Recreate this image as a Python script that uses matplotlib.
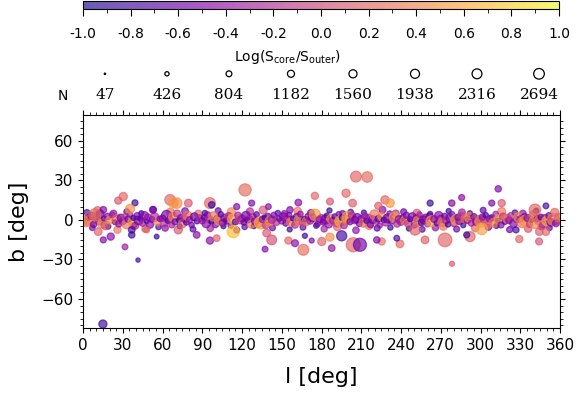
import matplotlib
matplotlib.use("Agg")
import matplotlib.pyplot as plt
from matplotlib.ticker import MultipleLocator
from matplotlib.cm import ScalarMappable
from matplotlib.colors import Normalize
import numpy as np

# ── Data: galactic longitude l, latitude b, log(S_core/S_outer), N ──────────
# band |b| < 5, 0-360 deg
band_l = [1, 2.5, 4, 5, 6.5, 8, 9, 10.5, 12, 13, 14.5, 16, 17, 18.5, 20, 22, 24, 25.5, 27, 28.5,
          30, 31.5, 33, 34, 35.5, 37, 38, 39.5, 41, 42, 43.5, 45, 46.5, 48, 49, 50.5, 52, 54, 56, 58,
          60, 61.5, 63, 64, 65.5, 67, 68, 69.5, 71, 72.5, 74, 75, 76.5, 78, 79, 80.5, 82, 84, 86, 88,
          90, 91.5, 93, 94, 95.5, 97, 98.5, 100, 101.5, 103, 104, 105.5, 107, 108.5, 110, 111.5, 113, 115, 117, 118.5,
          120, 121.5, 123, 124, 125.5, 127, 128.5, 130, 131, 132.5, 134, 135.5, 137, 138, 139.5, 141, 142.5, 144, 146, 148,
          150, 151.5, 153, 154, 155.5, 157, 158.5, 160, 161.5, 163, 164, 165.5, 167, 168.5, 170, 171.5, 173, 175, 177, 178.5,
          180, 181.5, 183, 184, 185.5, 187, 188.5, 190, 191.5, 193, 194, 195.5, 197, 198.5, 200, 201.5, 203, 205, 207, 208.5,
          210, 211.5, 213, 214, 215.5, 217, 218.5, 220, 221.5, 223, 224, 225.5, 227, 228.5, 230, 231.5, 233, 235, 237, 238.5,
          240, 241.5, 243, 244, 245.5, 247, 248.5, 250, 251.5, 253, 254, 255.5, 257, 258.5, 260, 261.5, 263, 265, 267, 268.5,
          270, 271.5, 273, 274, 275.5, 277, 278.5, 280, 281.5, 283, 284, 285.5, 287, 288.5, 290, 291.5, 293, 295, 297, 298.5,
          300, 301.5, 303, 304, 305.5, 307, 308.5, 310, 311.5, 313, 314, 315.5, 317, 318.5, 320, 321.5, 323, 325, 327, 328.5,
          330, 331.5, 333, 334, 335.5, 337, 338.5, 340, 341.5, 343, 344, 345.5, 347, 348.5, 350, 351.5, 353, 355, 357, 359]
band_b = [0.5, -2, 1.8, -0.5, 3, -3.5, 0.8, 2.2, -1.2, 4.5, -2.8, 1, -4.2, 2.6, -0.3, 3.8, -1.8, 0.2, -3, 1.6,
          -1, 2.4, -3.2, 0.6, 4, -1.8, 1.5, -4.5, 2.8, -0.4, 0.9, -2.5, 3.3, -1.1, 1.9, -3.6, 0.3, 2.1, -2, 0.8,
          1.2, -2.6, 3.5, -0.7, 0.4, -3.9, 2, -1.5, 4.8, -0.2, 1.7, -3, 0.9, -1.9, 3, 0.1, -4, 2.3, -0.9, 1.3,
          -0.6, 1.9, -2.9, 3.8, 0.3, -1.4, 2.6, -3.7, 0.9, -0.1, 4.2, -2.2, 1.4, -0.8, 2.9, -4.4, 0.6, -1.6, 3.4, -0.3,
          1.1, -1.9, 3.1, -0.4, 0.7, -3.3, 2.2, -1.1, 4.1, -2.5, -2.2, 0.4, 1.8, -4.1, 2.7, -0.9, 0.2, 3.6, -1.7, 0.9,
          -0.8, 2.3, -2.7, 0.5, 3.7, -1.6, 1, -3.8, 2, -0.2, 4.4, -2.1, 0.6, -1.2, 2.8, -0.6, 1.6, 3.9, -3.1, 0.2,
          1.4, -1.8, 0.3, 3.2, -3.4, 0.9, -0.5, 2.5, -2.4, 4.3, -1, 1.7, -4.2, 0.1, 2.1, -1.4, 3.3, -0.2, 1.2, -2.9,
          0.7, -2.3, 2.9, -0.7, 1.5, -3.6, 0.2, 3.9, -1.3, 0.8, -4.3, 2.4, -0.1, -2, 1.1, 4.6, -0.9, 2, -3, 0.4,
          -1.5, 1.9, -0.3, 3.5, -2.8, 0.5, 2.3, -4, 1, -0.8, 4, -2, 0, 1.6, -3.2, 2.8, -1, 0.6, -2.5, 3.1,
          0.9, -1.7, 2.7, -0.5, -3.5, 1.3, 4.2, -2.4, 0.1, 2, -1, 3.3, -4.1, 0.7, -0.3, 1.8, -2.6, 2.4, -1.3, 0.4,
          -1.2, 2.1, -0.2, 3.6, -3, 0.8, 1.7, -2.2, 4.4, -0.6, 0.3, -3.9, 2.5, -1.4, 1, -0.4, 3, -2.7, 0.5, 1.9,
          0.6, -2.1, 2.6, -0.8, 1.4, -3.4, 0.1, 3.9, -1.5, 0.9, -0.3, 2.2, -4.2, 1.2, -0.9, 3.2, -1.9, 0.4, -2.6, 1.6]
band_c = [0.3, 0.2, -0.5, 0.4, -0.5, -0.6, -0.8, 0.3, -0.4, -0.6, 0.5, -0.7, 0.0, -0.5, 0.4, -0.3, -0.9, 0.2, -0.4, -0.6,
          -0.4, -0.1, 0.3, -0.6, -0.3, 0.5, -0.9, -0.2, -0.5, -0.6, -0.7, -0.3, -0.45, -0.8, -0.4, -0.5, -0.6, -0.2, 0.4, -0.5,
          -0.5, -0.2, -0.55, -0.8, -0.4, -0.3, 0.4, -0.6, -0.1, -0.9, -0.5, 0.2, -0.3, -0.7, 0.3, -0.4, -0.6, -0.6, -0.8, -0.2,
          -0.4, -0.7, -0.45, -0.5, -0.2, -0.9, 0.3, -0.6, -0.3, 0.5, -0.8, -0.4, -0.5, -0.6, -0.2, -0.5, 0.6, -0.7, -0.3, -0.1,
          -0.3, -0.6, -0.55, -0.8, -0.4, 0.3, -0.2, -0.5, -0.7, 0.2, 0.55, -0.4, -0.9, -0.1, -0.6, 0.4, -0.3, -0.5, -0.2, -0.7,
          -0.4, -0.5, -0.7, -0.3, -0.5, 0.3, -0.9, -0.2, -0.6, 0.4, -0.4, -0.1, -0.8, 0.2, -0.5, -0.3, -0.6, 0.5, -0.6, -0.4,
          -0.2, -0.6, -0.5, -0.8, -0.4, 0.4, -0.3, -0.7, -0.1, -0.5, 0.6, -0.9, -0.3, 0.3, 0.5, -0.6, -0.2, -0.4, -0.55, -0.7,
          -0.5, 0.2, -0.3, -0.8, -0.4, -0.5, -0.6, 0.3, -0.2, -0.7, -0.4, 0.4, -0.9, -0.3, -0.6, -0.5, -0.6, 0.5, -0.2, -0.4,
          -0.3, -0.7, 0.3, -0.5, -0.1, -0.9, -0.5, -0.4, -0.6, 0.4, -0.3, -0.8, -0.55, -0.5, -0.2, -0.6, 0.5, -0.4, -0.7, -0.45,
          -0.4, 0.3, -0.6, -0.2, -0.8, -0.55, -0.5, -0.3, 0.5, -0.7, -0.4, -0.1, -0.9, 0.2, -0.5, 0.4, -0.3, -0.6, -0.5, -0.2,
          0.4, -0.5, -0.2, -0.8, 0.2, -0.4, -0.6, 0.3, -0.3, -0.9, 0.5, -0.5, -0.1, -0.7, 0.3, -0.4, -0.2, -0.5, -0.6, 0.4,
          -0.3, 0.3, -0.6, 0.5, -0.4, -0.1, -0.8, 0.2, 0.4, -0.5, 0.3, -0.7, -0.2, -0.4, 0.6, -0.6, -0.5, 0.3, -0.5, 0.2]
band_n = [1300, 900, 450, 1600, 700, 520, 380, 1400, 640, 820, 1100, 350, 1000, 560, 760, 430, 300, 1250, 580, 700,
          650, 480, 1200, 560, 400, 900, 350, 620, 700, 1050, 380, 520, 840, 300, 600, 720, 460, 980, 540, 420,
          560, 740, 1300, 380, 620, 460, 1100, 500, 680, 340, 580, 900, 700, 420, 1150, 520, 380, 860, 450, 640,
          600, 420, 900, 520, 760, 360, 1200, 480, 640, 1500, 400, 700, 820, 560, 660, 380, 1400, 500, 580, 740,
          700, 480, 1050, 380, 640, 860, 560, 720, 420, 980, 2100, 600, 340, 660, 500, 1200, 780, 450, 620, 400,
          560, 900, 420, 700, 380, 1100, 340, 620, 760, 1300, 460, 580, 400, 980, 520, 680, 840, 1700, 440, 600,
          640, 480, 1150, 360, 720, 900, 560, 420, 800, 380, 1500, 460, 600, 1000, 1800, 520, 680, 740, 1200, 440,
          620, 1000, 480, 380, 700, 560, 820, 1250, 440, 600, 360, 950, 400, 680, 1100, 460, 540, 1400, 620, 760,
          680, 440, 1050, 520, 760, 340, 900, 480, 620, 1300, 400, 560, 840, 700, 460, 580, 1600, 640, 380, 980,
          700, 1200, 480, 620, 380, 900, 440, 760, 1450, 520, 660, 580, 340, 1000, 600, 1250, 460, 540, 800, 720,
          1700, 560, 720, 380, 900, 620, 460, 1100, 420, 340, 1300, 500, 680, 400, 1000, 580, 640, 860, 480, 1200,
          600, 1400, 460, 1800, 700, 520, 380, 900, 2400, 560, 1100, 440, 640, 760, 1300, 480, 820, 1900, 620, 1000]

# outer edge of the band, 4 < |b| < 8
edge_l = [3, 7, 11, 19, 23, 26, 33, 38, 44, 47, 53, 57, 62, 66, 73, 77, 83, 87, 92, 96, 102, 106, 112, 116,
          122, 126, 129, 136, 143, 147, 152, 156, 162, 166, 172, 176, 182, 186, 192, 196, 202, 206, 212, 216, 222, 226, 232, 236,
          242, 246, 252, 256, 262, 266, 272, 276, 282, 286, 292, 296, 302, 306, 312, 316, 322, 326, 332, 336, 342, 346, 352, 356]
edge_b = [5.5, -6, 7.2, -5, 4.8, -7.5, 6.2, -4.6, 5, -6.8, 7.8, -5.4, -6.2, 5.8, -4.9, 6.6, -7.1, 4.5, 5.2, -6.5, 7, -4.8, 5.9, -7.7,
          -5.3, 6.4, -4.7, 7.4, -6, 5.1, 4.6, -7.3, 6.8, -5.6, 5.3, -4.4, -6.9, 7.1, -5.1, 4.9, 6, -7.9, 5.5, -4.5, -6.3, 7.6, -5.8, 4.7,
          6.1, -6.6, 5, -7.2, 4.4, -5.9, -4.8, 6.7, -7, 5.7, 4.9, -6.1, 7.3, -5.5, -4.6, 6.3, -7.4, 5.4, 4.8, -6.7, 6.9, -5.2, -6, 5.6]
edge_c = [-0.8, -0.5, 0.2, -0.9, -0.4, 0.3, -0.7, -0.3, -0.9, 0.1, -0.6, -0.8, -0.4, 0.3, -0.9, -0.5, -0.7, 0.2, -0.8, -0.3, -0.6, -0.9, 0.4, -0.5,
          -0.7, -0.2, -0.9, 0.1, -0.6, -0.8, -0.4, -0.9, 0.3, -0.7, -0.5, -0.85, -0.3, -0.9, 0.2, -0.6, -0.8, -0.4, -0.9, 0.3, -0.7, -0.5, -0.85, -0.2,
          -0.6, -0.9, 0.1, -0.7, -0.8, -0.4, 0.3, -0.9, -0.6, -0.3, -0.85, 0.2, -0.7, -0.5, -0.9, 0.3, -0.6, -0.8, -0.4, 0.1, -0.9, -0.5, -0.7, 0.2]
edge_n = [500, 420, 800, 380, 600, 700, 450, 520, 360, 650, 480, 400, 560, 900, 340, 620, 440, 760, 380, 540, 460, 350, 1000, 500,
          420, 680, 370, 840, 480, 400, 560, 340, 720, 460, 600, 380, 520, 360, 880, 440, 400, 580, 350, 760, 480, 640, 380, 700,
          500, 360, 820, 440, 400, 560, 900, 350, 480, 620, 380, 780, 460, 540, 340, 860, 500, 420, 600, 740, 360, 520, 440, 900]

# sources off the plane
off_l = [15, 41.5, 30.4, 26.6, 39.2, 35.5, 15.3, 9, 11.5, 20.9, 15.3, 31.7, 36.8, 36.8, 55.6, 48, 65.7, 68.2, 52.8,
         122.3, 95.8, 97.1, 79.5, 70.7, 113.4, 95.8, 100.9, 85.8, 71.9, 137.4, 142.4, 138.6, 127.3, 139.9, 116,
         206, 214.5, 198.5, 203.5, 175, 162.5, 186.4, 156.2, 155, 160, 166.3, 180.2, 187.7, 186.4, 195.2, 204, 209,
         172.6, 167.5,
         285.8, 278.3, 262, 227.9, 231.7, 222.9, 273.2, 258.1, 239.2, 225.4, 221.7, 236.8, 250.6, 278.5,
         313.4, 308.5, 316, 349.4, 341.1, 329.3, 344.2, 292.1, 289.6, 300.9, 326.8, 344.4, 349.4]
off_b = [-79, -30.5, 17.7, 14.6, 12.9, 8.3, 7.6, 3.8, -8.9, -12.7, -15.2, -20.5, -7.6, -11.4, -12.7, -7.6, 15.2, 12.9, 7.6,
         22.7, 12.7, 11.4, 12.7, 12.7, -8.9, -15.7, -13.9, -11.4, -7.6, -22.2, -15.2, -10, 12.7, 10, 10,
         32.8, 32.5, 20.2, 12.7, 18.2, 13.1, 13.9, 7.6, -15.7, -17.7, -22.7, -16.4, -21.4, -13.1, -12.1, -18.9, -18.9,
         -15.7, -12.1,
         16.9, 12.7, 12.7, 15.2, 12.7, 10.6, -15.2, -15.2, -18.2, -16.4, -15.2, -13.9, -7.6, -33.3,
         23.5, 12.7, 12.7, 10.6, 7.6, -14.6, -16.4, -12.7, -11.4, -6.8, -7.6, -8.9, -9.1]
off_c = [-0.85, -0.8, 0.2, 0.1, -0.85, 0.45, -0.5, 0.25, 0.15, -0.45, -0.5, -0.35, -0.8, -0.85, -0.9, 0.2, 0.2, 0.5, -0.55,
         0.25, 0.2, -0.85, 0.1, 0.45, 0.7, -0.45, 0.15, -0.45, 0.1, -0.5, 0.05, 0.1, -0.5, -0.45, -0.5,
         0.2, 0.25, 0.2, 0.15, 0.2, -0.45, 0.1, -0.5, 0.2, -0.45, 0.25, 0.15, -0.4, 0.45, -0.8, 0.2, -0.6,
         -0.5, -0.85,
         -0.45, -0.5, -0.85, 0.2, 0.5, 0.15, 0.2, 0.15, 0.2, 0.25, -0.5, -0.8, 0.15, 0.1,
         -0.5, -0.55, 0.1, -0.8, 0.2, 0.2, 0.1, 0.2, -0.85, 0.55, -0.8, 0.15, 0.2]
off_n = [900, 250, 900, 700, 500, 1100, 600, 2000, 800, 700, 500, 450, 600, 550, 300, 500, 1500, 1300, 650,
         2000, 1600, 550, 800, 1500, 2000, 700, 600, 600, 900, 450, 1300, 800, 500, 450, 500,
         1600, 1500, 900, 800, 700, 600, 650, 550, 700, 650, 1600, 900, 600, 900, 1400, 2694, 2300,
         350, 350,
         500, 550, 500, 900, 1000, 700, 2500, 800, 800, 700, 550, 450, 1500, 350,
         550, 500, 700, 450, 1800, 700, 650, 1400, 500, 1800, 500, 800, 700]

leg_n = [47, 426, 804, 1182, 1560, 1938, 2316, 2694]

CMAP = "plasma"
ALPHA = 0.65
LEG_SCALE = 1 / 46.0    # legend marker area per source count
PT_SCALE = 1 / 26.0     # plotted marker area per source count

l = np.array(edge_l + band_l + off_l)
b = np.array(edge_b + band_b + off_b)
c = np.array(edge_c + band_c + off_c)
n = np.array(edge_n + band_n + off_n)

W, H = 576, 393
fig = plt.figure(figsize=(W / 100, H / 100), dpi=100)

# ── Main sky plot ────────────────────────────────────────────────────────────
ax = fig.add_axes([83 / W, 1 - 328 / H, 477 / W, 213 / H])
ax.scatter(l, b, s=n * PT_SCALE, c=c, cmap=CMAP, vmin=-1, vmax=1,
           alpha=ALPHA, linewidths=0.9)
ax.set_xlim(0, 360)
ax.set_ylim(-82, 79.5)
ax.xaxis.set_major_locator(MultipleLocator(30))
ax.xaxis.set_minor_locator(MultipleLocator(5))
ax.yaxis.set_major_locator(MultipleLocator(30))
ax.yaxis.set_minor_locator(MultipleLocator(5))
ax.tick_params(which="both", top=True, right=True, direction="out")
ax.tick_params(labelsize=11)
ax.set_xlabel("l [deg]", fontsize=16, labelpad=10)
ax.set_ylabel("b [deg]", fontsize=16, labelpad=9)

# ── Colour bar on top ───────────────────────────────────────────────────────
cax = fig.add_axes([83 / W, 1 - 8.5 / H, 476 / W, 8 / H])
sm = ScalarMappable(norm=Normalize(-1, 1), cmap=CMAP)
cb = fig.colorbar(sm, cax=cax, orientation="horizontal", alpha=ALPHA)
cticks = np.round(np.arange(-1.0, 1.01, 0.2), 1) + 0.0
cb.set_ticks(cticks)
cb.ax.xaxis.set_minor_locator(MultipleLocator(0.1))
cb.ax.set_xticklabels([f"{v:.1f}" for v in cticks])
cb.ax.tick_params(labelsize=10, length=5, pad=8)
cb.ax.tick_params(which="minor", length=3)
cb.outline.set_linewidth(0.8)
fig.text(0.5, 1 - 57 / H, r"Log(S$_{\rm core}$/S$_{\rm outer}$)",
         ha="center", va="center", fontsize=10)

# ── Size legend ─────────────────────────────────────────────────────────────
lax = fig.add_axes([83 / W, 1 - 105 / H, 477 / W, 40 / H])
lax.set_xlim(0, 1)
lax.set_ylim(0, 1)
lax.axis("off")
xs = np.linspace(0.046, 0.956, len(leg_n))
lax.scatter(xs, [0.78] * len(leg_n), s=np.array(leg_n) * LEG_SCALE,
            facecolors="none", edgecolors="black", linewidths=0.9)
for x, v in zip(xs, leg_n):
    lax.text(x, 0.25, str(v), ha="center", va="center", fontsize=11,
             family="DejaVu Serif")
fig.text(62.5 / W, 1 - 96 / H, "N", ha="center", va="center", fontsize=10)

fig.savefig("out.png", dpi=100)
plt.close(fig)
